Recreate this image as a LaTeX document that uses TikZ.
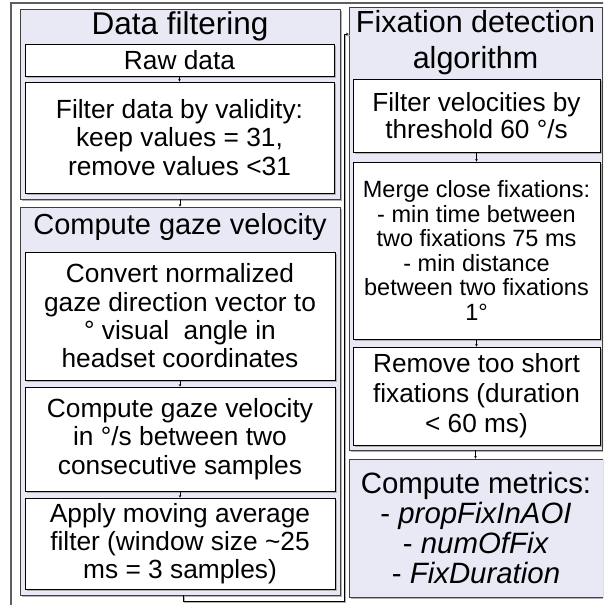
\documentclass[tikz,border=0pt]{standalone}
\usepackage{fontspec}
\setmainfont{Liberation Sans}
\usetikzlibrary{shadows,arrows.meta}
\definecolor{grpfill}{RGB}{233,233,245}
\definecolor{framegray}{RGB}{95,95,95}
\begin{document}
\begin{tikzpicture}[x=1pt,y=-1pt,
  shade/.style={drop shadow={shadow xshift=1.5pt,shadow yshift=-1.5pt,fill=black!30,opacity=1}},
  grp/.style={rectangle,draw=black!75,line width=0.9pt,fill=grpfill,inner sep=0pt,shade},
  stepbox/.style={rectangle,draw=black,line width=0.8pt,fill=white,align=center,inner sep=1pt,shade},
  grptitle/.style={align=center,inner sep=0pt},
  body/.style={font=\fontsize{26.3}{28.3}\selectfont},
  conn/.style={draw=black,line width=0.6pt,-{Stealth[length=2.5pt,width=2.5pt]}},
  connshade/.style={preaction={draw=black!30,line width=0.6pt,transform canvas={shift={(1.5pt,-1.5pt)}}}}]
\useasboundingbox (0,0) rectangle (603,605);
\clip (0,0) rectangle (603,605);
\fill[white] (0,0) rectangle (603,605);

% surrounding frame (runs off the page at right and bottom)
\draw[framegray,line width=1.6pt] (11,3) rectangle (640,640);

% ---- Data filtering ----
\node[grp,minimum width=320pt,minimum height=190pt] (g1) at (180,104) {};
\node[grptitle,font=\fontsize{31.5}{36}\selectfont] (t1) at (180,26) {Data filtering};
\node[stepbox,body,minimum width=309pt,minimum height=32pt] (raw) at (179.5,60) {Raw data};
\node[stepbox,body,minimum width=309pt,minimum height=111pt] (filt) at (179.5,137.5)
  {Filter data by validity:\\keep values = 31,\\remove values <31};

% ---- Compute gaze velocity ----
\node[grp,minimum width=320pt,minimum height=388pt] (g2) at (180,401) {};
\node[grptitle,font=\fontsize{29}{34}\selectfont] (t2) at (180,227) {Compute gaze velocity};
\node[stepbox,body,minimum width=310pt,minimum height=128pt] (conv) at (180,316)
  {Convert normalized\\gaze direction vector to\\° visual\ \ angle in\\headset coordinates};
\node[stepbox,body,minimum width=310pt,minimum height=104pt] (vel) at (180,439)
  {Compute gaze velocity\\in °/s between two\\consecutive samples};
\node[stepbox,body,minimum width=310pt,minimum height=91pt] (avg) at (180,543.5)
  {Apply moving average\\filter (window size \textasciitilde25\\ms = 3 samples)};

% ---- Fixation detection algorithm ----
\node[grp,minimum width=253pt,minimum height=443pt] (g3) at (475.5,228.5) {};
\node[grptitle,font=\fontsize{30.5}{36}\selectfont] (t3) at (475.5,43) {Fixation detection\\algorithm};
\node[stepbox,font=\fontsize{26.2}{27.5}\selectfont,minimum width=247pt,minimum height=73pt] (fv) at (476.5,115.5)
  {Filter velocities by\\threshold 60 °/s};
\node[stepbox,font=\fontsize{23.5}{24.5}\selectfont,minimum width=247pt,minimum height=177pt] (merge) at (476.5,250.5)
  {Merge close fixations:\\- min time between\\two fixations 75 ms\\- min distance\\between two fixations\\1°};
\node[stepbox,font=\fontsize{26.2}{30}\selectfont,minimum width=247pt,minimum height=98pt] (rem) at (476.5,396)
  {Remove too short\\fixations (duration\\< 60 ms)};

% ---- Compute metrics ----
\node[grp,align=center,font=\fontsize{29.4}{30}\selectfont,minimum width=254pt,minimum height=138pt] (met) at (476,528)
  {Compute metrics:\\- \textit{propFixInAOI}\\- \textit{numOfFix}\\- \textit{FixDuration}};

% ---- connectors ----
\draw[conn] (raw) -- (filt);
\draw[conn] (g1) -- (g2);
\draw[conn] (conv) -- (vel);
\draw[conn] (vel) -- (avg);
\draw[conn] (fv) -- (merge);
\draw[conn] (merge) -- (rem);
\draw[conn] (g3.south) -- (g3.south |- met.north);

\coordinate (bendA) at (344,601);
\coordinate (bendB) at (344,34);
\draw[conn,connshade] ([xshift=3pt]g2.south) |- (bendA) -- (bendB) -- (bendB -| g3.west);
\end{tikzpicture}
\end{document}
